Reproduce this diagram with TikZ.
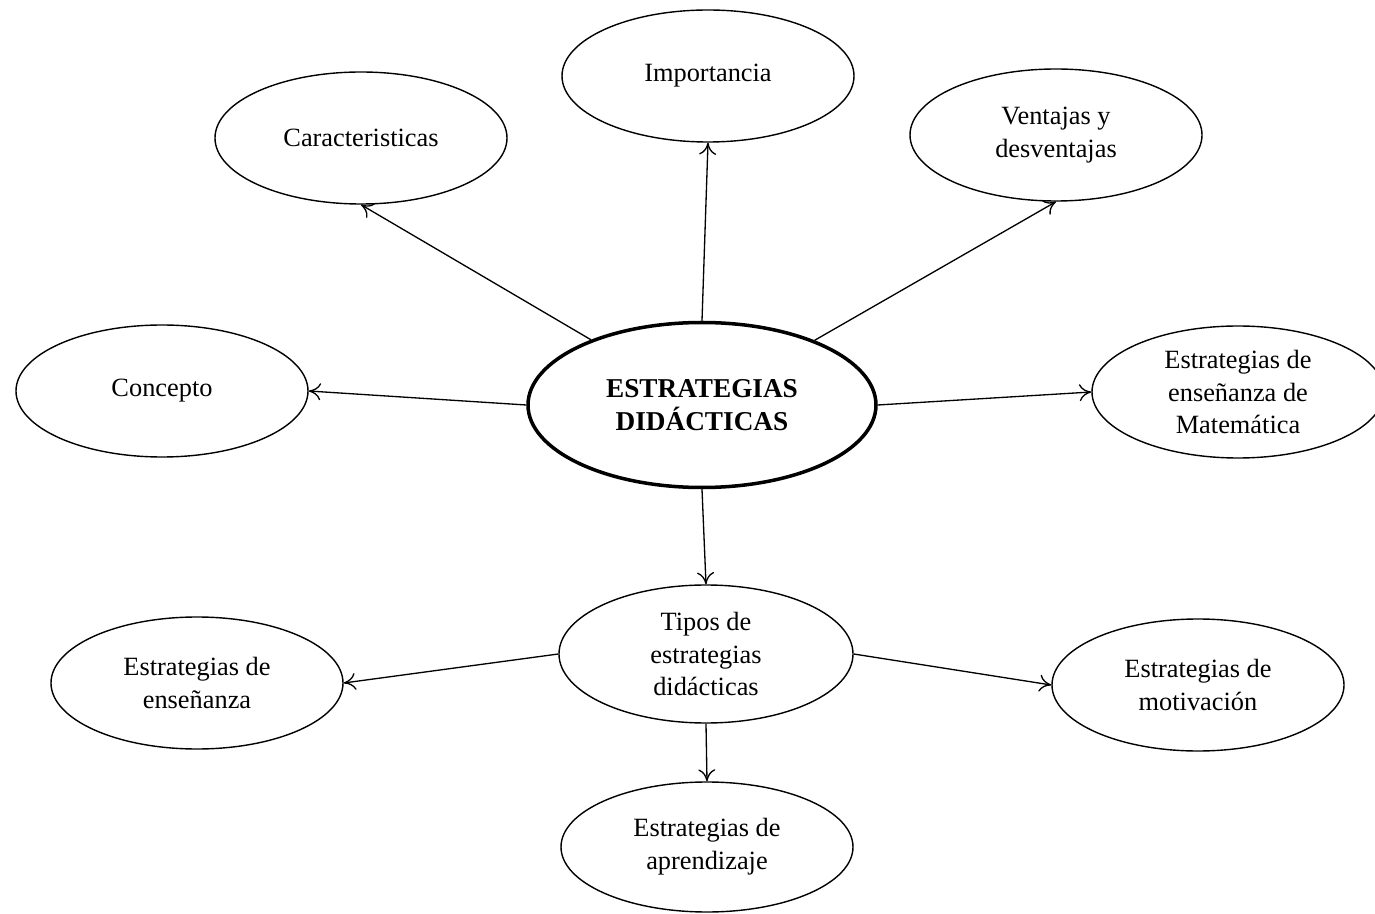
\documentclass[tikz,border=0pt]{standalone}
\usepackage{fontspec}
\setmainfont{Liberation Serif}
\usetikzlibrary{arrows.meta, positioning, shapes.geometric}
\tikzset{
  >={To[length=2.4mm,width=3.4mm]},
  font=\fontsize{15}{18.6}\selectfont,
  bubble/.style={
    ellipse, draw=black, line width=0.8pt, fill=white, align=center,
    inner sep=0pt, minimum width=#1cm, minimum height=2.64cm
  },
  bubble/.default=5.84,
  mainbubble/.style={
    ellipse, draw=black, line width=2pt, fill=white, align=center,
    inner sep=0pt, minimum width=6.96cm, minimum height=3.3cm,
    font=\fontsize{15.5}{19.2}\selectfont\bfseries
  },
  link/.style={->, line width=0.75pt, draw=black}
}
\begin{document}
\begin{tikzpicture}
  \useasboundingbox (0,0) rectangle (27.5,-18.28);
  % centre and the branches round it
  \node[mainbubble] (cen) at (14.04,-8.1) {ESTRATEGIAS\\DIDÁCTICAS};
  \node[bubble] (imp) at (14.16,-1.52) {Importancia};
  \node[bubble] (car) at (7.22,-2.76) {Caracteristicas};
  \node[bubble] (ven) at (21.12,-2.7) {Ventajas y\\desventajas};
  \node[bubble] (con) at (3.24,-7.82) {Concepto};
  \node[bubble] (mat) at (24.76,-7.84) {Estrategias de\\enseñanza de\\Matemática};
  % types of strategies
  \node[bubble=5.88,minimum height=2.76cm] (tip) at (14.12,-13.08) {Tipos de\\estrategias\\didácticas};
  \node[bubble] (ens) at (3.94,-13.66) {Estrategias de\\enseñanza};
  \node[bubble] (mot) at (23.96,-13.7) {Estrategias de\\motivación};
  \node[bubble,minimum height=2.6cm] (apr) at (14.14,-16.94) {Estrategias de\\aprendizaje};
  \draw[link] (cen.north) -- (imp.south);
  \draw[link] (cen) -- (car.south);
  \draw[link] (cen) -- (ven.south);
  \draw[link] (cen.west) -- (con.east);
  \draw[link] (cen.east) -- (mat.west);
  \draw[link] (cen.south) -- (tip.north);
  \draw[link] (tip.west) -- (ens.east);
  \draw[link] (tip.east) -- (mot.west);
  \draw[link] (tip.south) -- (apr.north);
\end{tikzpicture}
\end{document}
